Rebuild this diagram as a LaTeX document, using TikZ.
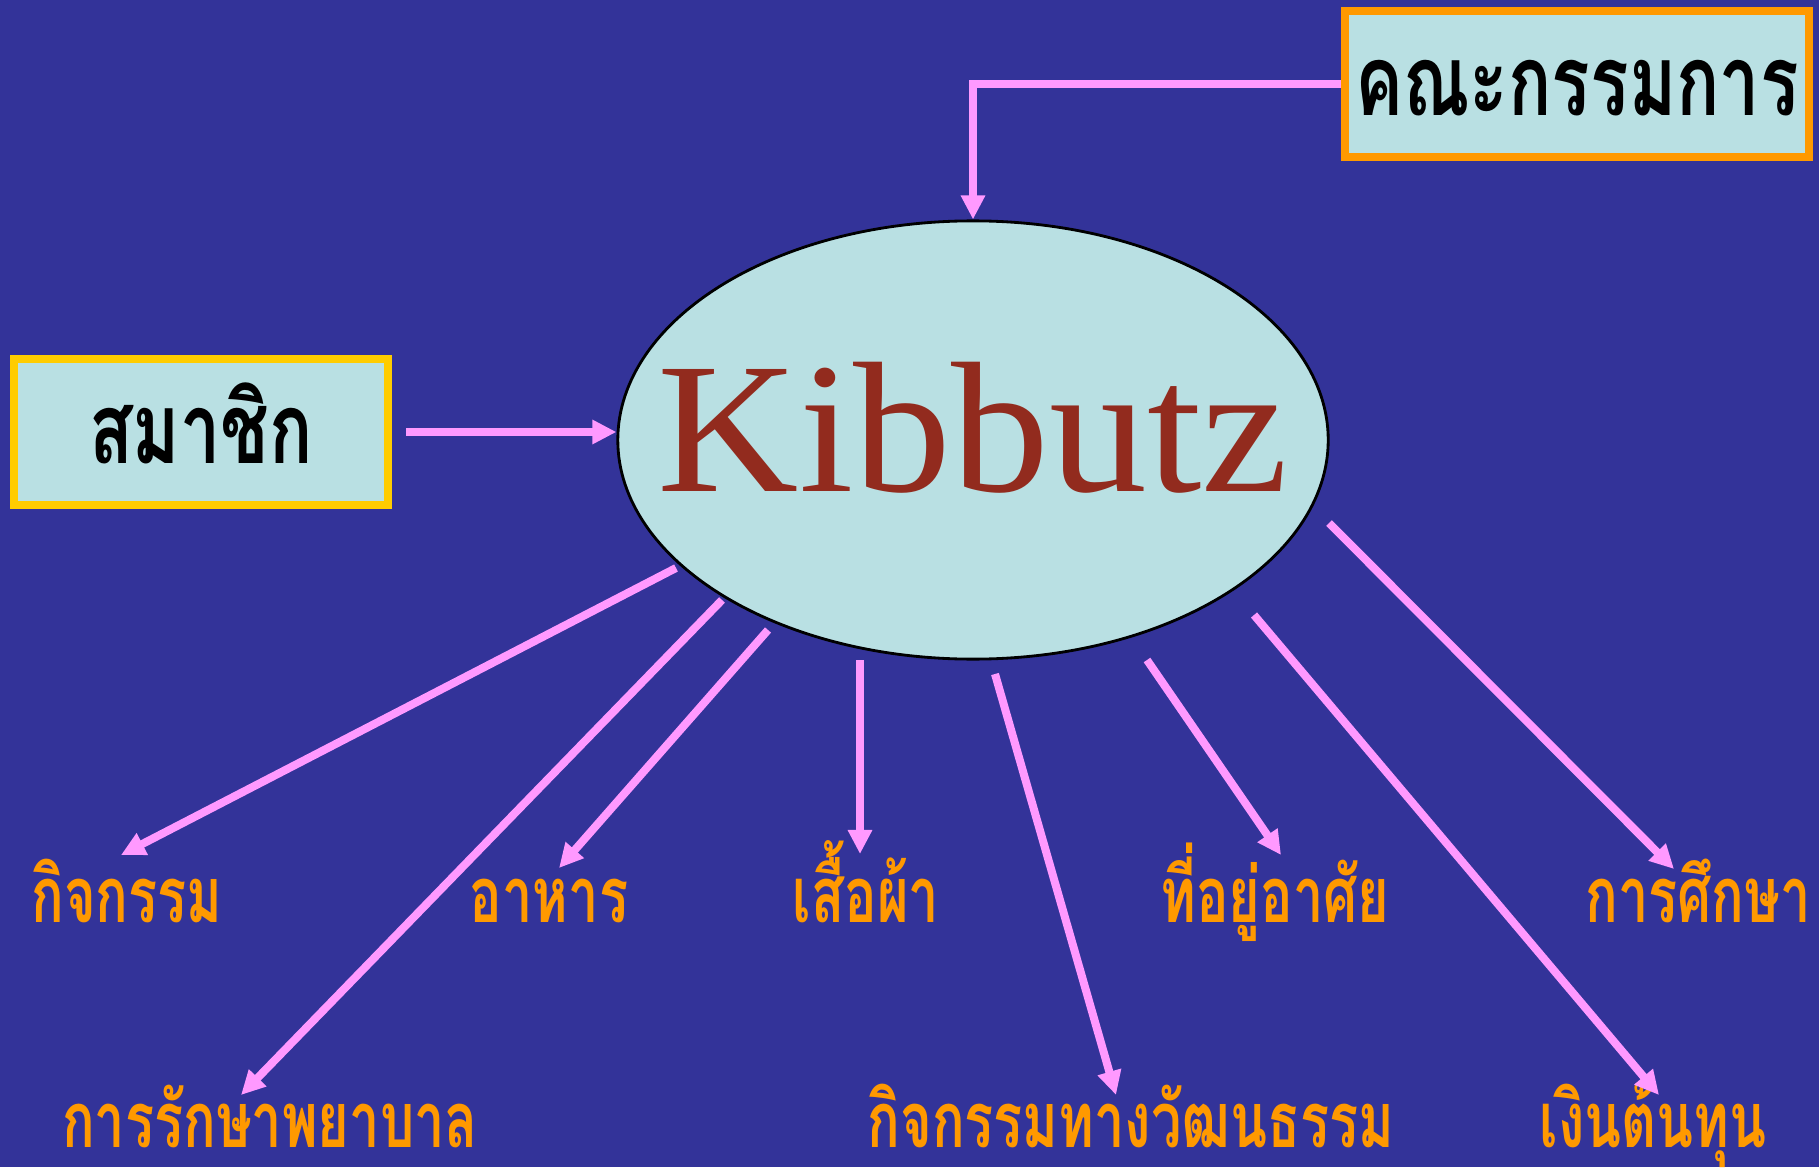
\documentclass[tikz,border=0pt]{standalone}
\usepackage{fontspec}
\setmainfont{Liberation Serif}
\newfontfamily\chuK[FakeStretch=1.05]{Liberation Serif}
\newfontfamily\chuthaihop[Script=Thai,FakeStretch=0.73]{Loma}
\newfontfamily\chuthaihep[Script=Thai,FakeStretch=0.7]{Loma}
\usepackage{xcolor}
\definecolor{dnnen}{HTML}{333399}
\definecolor{dnxanh}{HTML}{B9E0E3}
\definecolor{dnhong}{HTML}{FF99FF}
\definecolor{dncam}{HTML}{FF9900}
\definecolor{dnvang}{HTML}{FFCC00}
\definecolor{dndo}{HTML}{922B1E}
\def\mauhop{dnxanh}
\def\maunhan{dncam}
\usepackage{tikz}
\usetikzlibrary{arrows.meta,shapes.geometric,positioning,calc}

\begin{document}
\begin{tikzpicture}[x=0.01cm,y=-0.01cm]
		\tikzset{
			hop/.style={draw=#1,line width=0.08cm,fill=\mauhop,inner sep=0pt,minimum width=4.64cm,minimum height=1.46cm,text height=0.62cm,text depth=0pt,font=\chuthaihop\bfseries\fontsize{28}{30}\selectfont},
			nhan/.style={anchor=base,inner sep=0pt,text=\maunhan,font=\chuthaihep\bfseries\fontsize{22}{24}\selectfont},
			muiten/.style={draw=dnhong,line width=0.08cm,-{Triangle[length=0.24cm,width=0.23cm]}}
		}
		\fill[dnnen] (0,0) rectangle (1819,1167);
		\useasboundingbox (0,0) rectangle (1819,1167);
		%%
		\node[ellipse,draw=black,line width=0.8pt,fill=\mauhop,minimum width=7.1cm,minimum height=4.38cm,inner sep=0pt,
			label={[text=dndo,font=\chuK\fontsize{53}{57}\selectfont,inner sep=0pt,yshift=0.12cm]center:Kibbutz}] (kib) at (973,440) {};
		\node[hop=dncam] (uyban) at (1577,84) {คณะกรรมการ};
		\node[hop=dnvang,minimum width=3.74cm] (thanhvien) at (201,432) {สมาชิก};
		%%
		\draw[muiten] (uyban.west) -| (kib.north);
		\draw[muiten,shorten <=0.14cm] (thanhvien.east) -- (thanhvien.east -| kib.west);
		%%
		\foreach \i/\s/\e/\p/\t in{%
			1/{676,568}/{121,855}/{127,922}/กิจกรรม,
			2/{722,600}/{241,1095}/{270,1147}/การรักษาพยาบาล,
			3/{768,630}/{559,868}/{549,922}/อาหาร,
			4/{860,660}/{860,854}/{866,922}/เสื้อผ้า,
			5/{995,674}/{1116,1095}/{1131,1147}/กิจกรรมทางวัฒนธรรม,
			6/{1147,660}/{1281,855}/{1275,922}/ที่อยู่อาศัย,
			7/{1254,615}/{1659,1095}/{1653,1147}/เงินต้นทุน,
			8/{1329,523}/{1674,869}/{1698,922}/การศึกษา}{%
			\node[nhan] (muc\i) at (\p) {\t};
			\coordinate (tu\i) at (\s);
			\coordinate (den\i) at (\e);
			\draw[muiten] (tu\i) -- (den\i);
		}
\end{tikzpicture}
\end{document}
